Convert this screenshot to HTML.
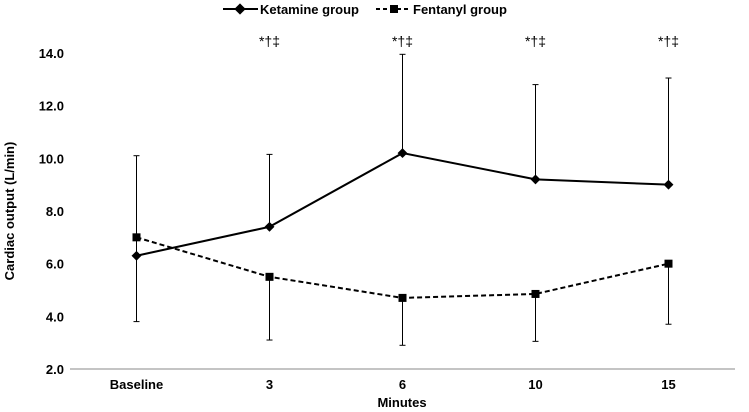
<!DOCTYPE html>
<html><head><meta charset="utf-8"><style>
body{margin:0;background:#fff;}
svg{display:block;font-family:"Liberation Sans",Arial,sans-serif;}
</style></head><body>
<svg id="chart" width="749" height="412" viewBox="0 0 749 412">
<g id="legend">
  <g>
    <line x1="223" y1="9" x2="258" y2="9" stroke="#000" stroke-width="2"/>
    <rect x="236" y="5" width="8" height="8" transform="rotate(45 240 9)" fill="#000"/>
    <text x="260" y="14" font-size="13" font-weight="bold">Ketamine group</text>
  </g>
  <g>
    <line x1="376" y1="9" x2="411" y2="9" stroke="#000" stroke-width="2" stroke-dasharray="4,3"/>
    <rect x="390" y="5" width="8" height="8" fill="#000"/>
    <text x="413" y="14" font-size="13" font-weight="bold">Fentanyl group</text>
  </g>
</g>
<text x="14" y="211" font-size="13" font-weight="bold" text-anchor="middle" transform="rotate(-90 14 211)">Cardiac output (L/min)</text>
<text x="402" y="407" font-size="13" font-weight="bold" text-anchor="middle">Minutes</text>
<g id="axes"></g>
<g id="marks"></g>
</svg>
<script>
const categories = ["Baseline","3","6","10","15"];
const ketamine = [6.3, 7.4, 10.2, 9.2, 9.0];
const ketamineUpper = [10.1, 10.15, 13.95, 12.8, 13.05];
const fentanyl = [7.0, 5.5, 4.7, 4.85, 6.0];
const fentanylLower = [3.8, 3.1, 2.9, 3.05, 3.7];
const yTicks = [2,4,6,8,10,12,14];
const annotations = ["", "*†‡", "*†‡", "*†‡", "*†‡"];

const NS="http://www.w3.org/2000/svg";
const x0=70, x1=735, yTop=53, yBot=369, yMin=2, yMax=14;
const xS=i=>x0+(x1-x0)*(i+0.5)/categories.length;
const yS=v=>yBot-(v-yMin)/(yMax-yMin)*(yBot-yTop);
function mk(tag,attrs,parent){const e=document.createElementNS(NS,tag);for(const k in attrs)e.setAttribute(k,attrs[k]);parent.appendChild(e);return e;}
const axes=document.getElementById('axes'), marks=document.getElementById('marks');

const xl=mk('line',{x1:x0,x2:x1,y1:yBot,y2:yBot,stroke:'#888','stroke-width':1},axes);


yTicks.forEach(t=>{
  const tx=mk('text',{x:64,y:yS(t)+5,'font-size':13,'font-weight':'bold','text-anchor':'end'},axes);
  tx.textContent=t.toFixed(1);
  
  
});
categories.forEach((c,i)=>{
  const tx=mk('text',{x:xS(i),y:389,'font-size':13,'font-weight':'bold','text-anchor':'middle'},axes);
  tx.textContent=c;
  
  
  if(annotations[i]){
    const a=mk('text',{x:xS(i),y:46,'font-size':14,'text-anchor':'middle'},axes);
    a.textContent=annotations[i];
    
    
  }
});
function errbar(i,a,b){
  const g=mk('g',{},marks);
  
  
  mk('line',{x1:xS(i),x2:xS(i),y1:yS(a),y2:yS(b),stroke:'#000','stroke-width':1},g);
  mk('line',{x1:xS(i)-3,x2:xS(i)+3,y1:yS(b),y2:yS(b),stroke:'#000','stroke-width':1},g);
}
ketamine.forEach((v,i)=>errbar(i,v,ketamineUpper[i]));
fentanyl.forEach((v,i)=>errbar(i,v,fentanylLower[i]));
const kl=mk('polyline',{points:ketamine.map((v,i)=>xS(i)+','+yS(v)).join(' '),fill:'none',stroke:'#000','stroke-width':2},marks);


const fl=mk('polyline',{points:fentanyl.map((v,i)=>xS(i)+','+yS(v)).join(' '),fill:'none',stroke:'#000','stroke-width':2,'stroke-dasharray':'5,3'},marks);


ketamine.forEach((v,i)=>{
  const p=mk('rect',{x:xS(i)-3.5,y:yS(v)-3.5,width:7,height:7,fill:'#000',transform:`rotate(45 ${xS(i)} ${yS(v)})`},marks);
  
  
});
fentanyl.forEach((v,i)=>{
  const p=mk('rect',{x:xS(i)-4,y:yS(v)-4,width:8,height:8,fill:'#000'},marks);
  
  
});
</script>
</body></html>
